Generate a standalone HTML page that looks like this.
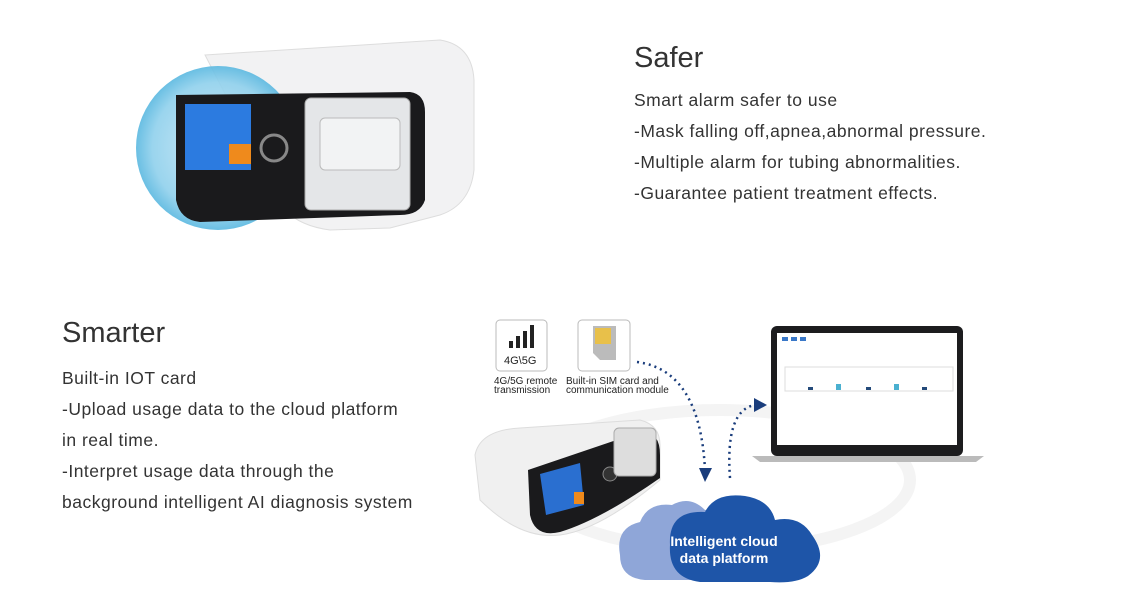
<!DOCTYPE html>
<html><head><style>
body{margin:0;width:1126px;height:611px;background:#fff;position:relative;overflow:hidden;font-family:"Liberation Sans",sans-serif;color:#333}
.t{position:absolute;font-size:17.5px;line-height:31px;color:#333;letter-spacing:0.5px;white-space:nowrap}
h2{position:absolute;margin:0;font-weight:400;font-size:29px;color:#333}
</style></head><body>
<svg width="1126" height="611" style="position:absolute;left:0;top:0">
<defs><radialGradient id="g1"><stop offset="0" stop-color="#cfe9f5"/><stop offset="0.8" stop-color="#8fd0ec"/><stop offset="1" stop-color="#5ab8e0"/></radialGradient></defs>
<path d="M205 55 L440 40 Q472 45 474 80 L474 170 Q470 205 440 215 L390 228 L330 230 Q300 226 285 210 Z" fill="#f2f2f3" stroke="#ddd"/>
<circle cx="218" cy="148" r="82" fill="url(#g1)" opacity="0.9"/>
<path d="M176 95 L410 92 Q425 94 425 112 L425 200 Q420 215 400 215 L200 222 Q180 220 176 200 Z" fill="#1a1a1c"/>
<rect x="185" y="104" width="66" height="66" fill="#2c7be0"/>
<rect x="229" y="144" width="22" height="20" fill="#ef8a1c"/>
<circle cx="274" cy="148" r="13" fill="none" stroke="#888" stroke-width="3"/>
<rect x="305" y="98" width="105" height="112" rx="6" fill="#e4e6e8" stroke="#aaa"/>
<rect x="320" y="118" width="80" height="52" rx="5" fill="#f2f3f4" stroke="#bbb"/>
<ellipse cx="720" cy="480" rx="190" ry="70" fill="none" stroke="#f4f4f4" stroke-width="12"/>
<rect x="496" y="320" width="51" height="51" rx="4" fill="#fff" stroke="#bbb"/>
<rect x="509" y="341" width="4" height="7" fill="#222"/><rect x="516" y="336" width="4" height="12" fill="#222"/><rect x="523" y="331" width="4" height="17" fill="#222"/><rect x="530" y="325" width="4" height="23" fill="#222"/>
<text x="504" y="364" font-size="11" fill="#222" font-family="Liberation Sans">4G\5G</text>
<text x="494" y="384" font-size="10" fill="#222" font-family="Liberation Sans">4G/5G remote</text>
<text x="494" y="393" font-size="10" fill="#222" font-family="Liberation Sans">transmission</text>
<rect x="578" y="320" width="52" height="51" rx="4" fill="#fff" stroke="#bbb"/>
<path d="M593 326 H616 V360 H600 L593 353 Z" fill="#bbb"/><rect x="595" y="328" width="16" height="16" fill="#e8c04a"/>
<text x="566" y="384" font-size="10" fill="#222" font-family="Liberation Sans">Built-in SIM card and</text>
<text x="566" y="393" font-size="10" fill="#222" font-family="Liberation Sans">communication module</text>
<path d="M637 362 Q700 370 705 470" fill="none" stroke="#1a3d7c" stroke-width="2.5" stroke-dasharray="2 4"/>
<path d="M699 468 L705 482 L712 468 Z" fill="#1a3d7c"/>
<path d="M730 478 Q725 410 755 405" fill="none" stroke="#1a3d7c" stroke-width="2.5" stroke-dasharray="2 4"/>
<path d="M754 398 L767 405 L754 412 Z" fill="#1a3d7c"/>
<rect x="771" y="326" width="192" height="130" rx="6" fill="#1c1c1e"/>
<rect x="777" y="333" width="180" height="112" fill="#fff"/>
<rect x="782" y="337" width="6" height="4" fill="#3a78c8"/><rect x="791" y="337" width="6" height="4" fill="#3a78c8"/><rect x="800" y="337" width="6" height="4" fill="#3a78c8"/>
<rect x="785" y="367" width="168" height="24" fill="#fff" stroke="#ddd"/>
<rect x="808" y="387" width="5" height="3" fill="#244a7a"/><rect x="836" y="384" width="5" height="6" fill="#4ab0d0"/><rect x="866" y="387" width="5" height="3" fill="#244a7a"/><rect x="894" y="384" width="5" height="6" fill="#4ab0d0"/><rect x="922" y="387" width="5" height="3" fill="#244a7a"/>
<path d="M752 456 H984 L976 462 H760 Z" fill="#bbb"/>
<path d="M475 455 Q480 430 520 428 L640 420 Q660 425 660 445 L660 480 Q600 530 560 535 Q520 540 480 500 Z" fill="#f0f0f0" stroke="#ddd"/>
<path d="M528 470 L640 432 Q660 430 660 455 L660 478 Q600 520 560 532 Q535 538 530 515 Z" fill="#1a1a1c"/>
<path d="M540 474 L580 463 L584 505 L546 515 Z" fill="#2a6fd0"/>
<rect x="574" y="492" width="10" height="12" fill="#ef8a1c"/>
<circle cx="610" cy="474" r="7" fill="#333" stroke="#888"/>
<rect x="614" y="428" width="42" height="48" rx="5" fill="#ddd" stroke="#aaa"/>
<path d="M620 555 Q615 528 640 522 Q648 502 672 505 Q690 495 705 510 Q720 508 725 525 Q745 535 738 560 Q735 582 710 580 L645 580 Q620 578 620 555 Z" fill="#8fa6d8"/>
<path d="M670 545 Q668 510 705 512 Q715 492 745 496 Q770 500 775 520 Q800 515 812 535 Q830 560 808 576 Q795 584 770 582 L700 582 Q668 578 670 545 Z" fill="#1e55a8"/>
<text x="724" y="546" font-size="14" font-weight="bold" fill="#fff" text-anchor="middle" font-family="Liberation Sans">Intelligent cloud</text>
<text x="724" y="563" font-size="14" font-weight="bold" fill="#fff" text-anchor="middle" font-family="Liberation Sans">data platform</text>
</svg>
<h2 style="left:634px;top:42px">Safer</h2>
<div class="t" style="left:634px;top:85px">Smart alarm safer to use<br>-Mask falling off,apnea,abnormal pressure.<br>-Multiple alarm for tubing abnormalities.<br>-Guarantee patient treatment effects.</div>
<h2 style="left:62px;top:317px">Smarter</h2>
<div class="t" style="left:62px;top:363px">Built-in IOT card<br>-Upload usage data to the cloud platform<br>in real time.<br>-Interpret usage data through the<br>background intelligent AI diagnosis system</div>
</body></html>
